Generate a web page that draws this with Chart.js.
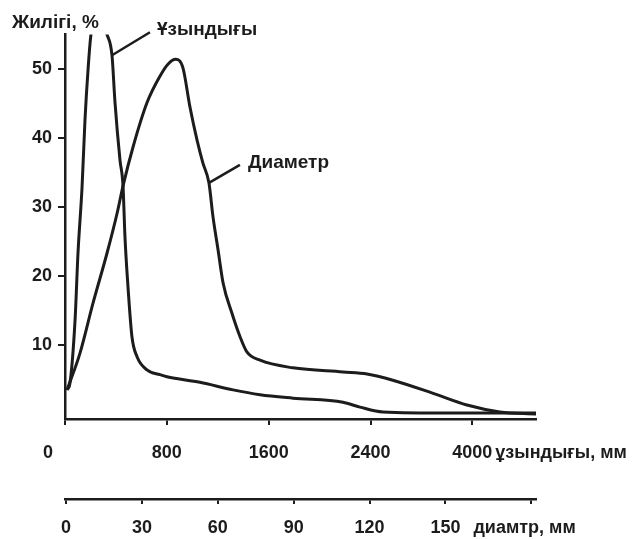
<!DOCTYPE html>
<html>
<head>
<meta charset="utf-8">
<script src="https://cdn.jsdelivr.net/npm/chart.js@4.4.1/dist/chart.umd.min.js"></script>
<style>
    html, body { margin: 0; padding: 0; background: #fff; }
    #wrap { width: 636px; height: 539px; }
</style>
</head>
<body>
<div id="wrap"><canvas id="freqChart"></canvas></div>
<script>
// Length distribution (x in mm of length, y in %)
const lengthMm = [16, 39, 79, 102, 134, 157, 181, 204, 267, 330, 369, 393, 432, 456, 471, 495, 526, 566, 644, 746, 801, 1060, 1320, 1532, 1791, 2184, 2317, 2498, 3024, 3700];
const lengthFreq = [3.5, 4.5, 13.6, 23.3, 32.9, 42.6, 49.9, 55, 58, 55, 52, 45.1, 36.8, 33.0, 25.7, 18.4, 11.2, 8.3, 6.4, 5.7, 5.4, 4.6, 3.5, 2.8, 2.3, 1.7, 1.0, 0.3, 0.15, 0.15];

// Diameter distribution (x in mm of diameter, y in %)
const diamMm = [0.4, 5.5, 10.7, 16.2, 20.2, 22.5, 26.5, 32.0, 37.2, 40.3, 43.4, 46.2, 49.0, 51.8, 54.1, 56.5, 58.1, 60.1, 62.1, 65.6, 68.8, 71.5, 76.7, 89.7, 109.5, 119.0, 129.2, 145.1, 158.5, 171.5, 185.8];
const diamFreq = [3.5, 8.8, 16.1, 23.3, 29.1, 33.0, 38.7, 45.1, 49.0, 50.7, 51.4, 50.2, 44.5, 39.7, 36.4, 33.5, 28.6, 23.8, 19.0, 14.6, 11.2, 9.0, 7.8, 6.7, 6.1, 5.8, 4.9, 3.0, 1.3, 0.3, 0];

// Tick values and labels
const yTicks = [10, 20, 30, 40, 50];
const lengthTicks = [0, 800, 1600, 2400, 3200];
const lengthTickLabels = ['', '800', '1600', '2400', '4000'];
const diamTicks = [0, 30, 60, 90, 120, 150, 184];
const diamTickLabels = ['0', '30', '60', '90', '120', '150', ''];

const INK = '#1c1c1c';
const FONT = 'bold 19px "Liberation Sans", Arial, sans-serif';
const tickFont = { family: '"Liberation Sans", Arial, sans-serif', size: 18, weight: 'bold' };

// Texts and leader lines drawn over the chart
const annotations = {
    id: 'annotations',
    afterDraw(chart) {
        const ctx = chart.ctx;
        const x = chart.scales.x;
        const x2 = chart.scales.x2;
        const y = chart.scales.y;
        ctx.save();
        ctx.fillStyle = INK;
        ctx.strokeStyle = INK;
        ctx.font = FONT;
        ctx.textBaseline = 'middle';
        ctx.textAlign = 'left';

        // y title
        ctx.fillText('Жилігі, %', 12, 23);

        // curve labels
        ctx.lineWidth = 2.5;
        const lx = x.getPixelForValue(369), ly = y.getPixelForValue(52);
        ctx.beginPath();
        ctx.moveTo(lx, ly);
        ctx.lineTo(lx + 38, ly - 23);
        ctx.stroke();
        ctx.fillText('Ұзындығы', lx + 45, ly - 25);

        const dx = x2.getPixelForValue(56.5), dy = y.getPixelForValue(33.5);
        ctx.beginPath();
        ctx.moveTo(dx, dy);
        ctx.lineTo(dx + 31, dy - 18);
        ctx.stroke();
        ctx.fillText('Диаметр', dx + 39, dy - 20);

        // axis captions
        ctx.font = 'bold 18px "Liberation Sans", Arial, sans-serif';
        ctx.textAlign = 'center';
        ctx.fillText('0', x.getPixelForValue(0) - 17, 453);
        ctx.textAlign = 'left';
        ctx.fillText('ұзындығы, мм', x.getPixelForValue(3200) + 23, 453);
        ctx.fillText('диамтр, мм', x2.getPixelForValue(150) + 28, 528);
        ctx.restore();
    }
};

const lineStyle = {
    borderColor: INK,
    borderWidth: 3,
    pointRadius: 0,
    fill: false,
    cubicInterpolationMode: 'monotone'
};

new Chart(document.getElementById('freqChart'), {
    type: 'line',
    data: {
        datasets: [
            Object.assign({
                label: 'Ұзындығы',
                xAxisID: 'x',
                data: lengthMm.map((v, i) => ({ x: v, y: lengthFreq[i] }))
            }, lineStyle),
            Object.assign({
                label: 'Диаметр',
                xAxisID: 'x2',
                data: diamMm.map((v, i) => ({ x: v, y: diamFreq[i] }))
            }, lineStyle)
        ]
    },
    options: {
        responsive: true,
        maintainAspectRatio: false,
        animation: false,
        layout: { padding: { top: 34.5, right: 100, bottom: 0, left: 0 } },
        plugins: {
            legend: { display: false },
            tooltip: { enabled: false }
        },
        scales: {
            x: {
                type: 'linear',
                position: 'bottom',
                weight: 0,
                min: 0,
                max: 3700,
                afterBuildTicks: s => { s.ticks = lengthTicks.map(v => ({ value: v })); },
                afterFit: s => { s.height = 80; },
                ticks: {
                    autoSkip: false,
                    maxRotation: 0,
                    padding: 17,
                    color: INK,
                    font: tickFont,
                    callback: v => lengthTickLabels[lengthTicks.indexOf(v)]
                },
                grid: { drawOnChartArea: false, drawTicks: true, tickLength: 6, color: INK, lineWidth: 2 },
                border: { color: INK, width: 2.5 }
            },
            x2: {
                type: 'linear',
                axis: 'x',
                position: 'bottom',
                weight: 1,
                min: -0.4,
                max: 185.8,
                afterBuildTicks: s => { s.ticks = diamTicks.map(v => ({ value: v })); },
                afterFit: s => { s.height = 40; },
                ticks: {
                    autoSkip: false,
                    maxRotation: 0,
                    padding: 13,
                    color: INK,
                    font: tickFont,
                    callback: v => diamTickLabels[diamTicks.indexOf(v)]
                },
                grid: { drawOnChartArea: false, drawTicks: true, tickLength: 5, color: INK, lineWidth: 2 },
                border: { color: INK, width: 2.5 }
            },
            y: {
                min: -0.72,
                max: 55,
                afterBuildTicks: s => { s.ticks = yTicks.map(v => ({ value: v })); },
                afterFit: s => { s.width = 65; },
                ticks: {
                    padding: 6,
                    color: INK,
                    font: tickFont
                },
                grid: { drawOnChartArea: false, drawTicks: true, tickLength: 7, color: INK, lineWidth: 2 },
                border: { color: INK, width: 2.5 }
            }
        }
    },
    plugins: [annotations]
});
</script>
</body>
</html>
